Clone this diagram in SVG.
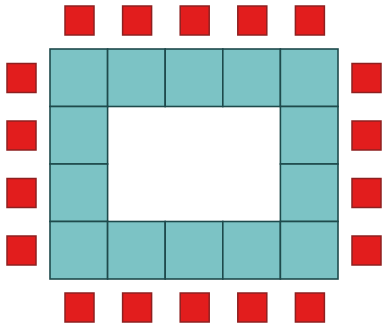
<svg xmlns="http://www.w3.org/2000/svg" width="383" height="326" viewBox="0 0 383 326">
<style>
.c{fill:#7cc3c5;stroke:#1e4a4c;stroke-width:1.6}
.r{fill:#e21d1d;stroke:#8e2020;stroke-width:1.5}
</style>
<rect width="383" height="326" fill="#ffffff"/>
<g id="ring">
<rect class="c" x="50" y="49" width="57.6" height="57.5"/>
<rect class="c" x="107.6" y="49" width="57.6" height="57.5"/>
<rect class="c" x="165.2" y="49" width="57.6" height="57.5"/>
<rect class="c" x="222.8" y="49" width="57.6" height="57.5"/>
<rect class="c" x="280.4" y="49" width="57.6" height="57.5"/>
<rect class="c" x="50" y="106.5" width="57.6" height="57.5"/>
<rect class="c" x="280.4" y="106.5" width="57.6" height="57.5"/>
<rect class="c" x="50" y="164" width="57.6" height="57.5"/>
<rect class="c" x="280.4" y="164" width="57.6" height="57.5"/>
<rect class="c" x="50" y="221.5" width="57.6" height="57.5"/>
<rect class="c" x="107.6" y="221.5" width="57.6" height="57.5"/>
<rect class="c" x="165.2" y="221.5" width="57.6" height="57.5"/>
<rect class="c" x="222.8" y="221.5" width="57.6" height="57.5"/>
<rect class="c" x="280.4" y="221.5" width="57.6" height="57.5"/>
</g>
<g id="top">
<rect class="r" x="65" y="6" width="29" height="29"/>
<rect class="r" x="122.6" y="6" width="29" height="29"/>
<rect class="r" x="180.2" y="6" width="29" height="29"/>
<rect class="r" x="237.8" y="6" width="29" height="29"/>
<rect class="r" x="295.4" y="6" width="29" height="29"/>
</g>
<g id="bottom">
<rect class="r" x="65" y="293" width="29" height="29"/>
<rect class="r" x="122.6" y="293" width="29" height="29"/>
<rect class="r" x="180.2" y="293" width="29" height="29"/>
<rect class="r" x="237.8" y="293" width="29" height="29"/>
<rect class="r" x="295.4" y="293" width="29" height="29"/>
</g>
<g id="left">
<rect class="r" x="7" y="63.5" width="29" height="29"/>
<rect class="r" x="7" y="121" width="29" height="29"/>
<rect class="r" x="7" y="178.5" width="29" height="29"/>
<rect class="r" x="7" y="236" width="29" height="29"/>
</g>
<g id="right">
<rect class="r" x="352" y="63.5" width="29" height="29"/>
<rect class="r" x="352" y="121" width="29" height="29"/>
<rect class="r" x="352" y="178.5" width="29" height="29"/>
<rect class="r" x="352" y="236" width="29" height="29"/>
</g>
<g id="connectors"/>
</svg>
